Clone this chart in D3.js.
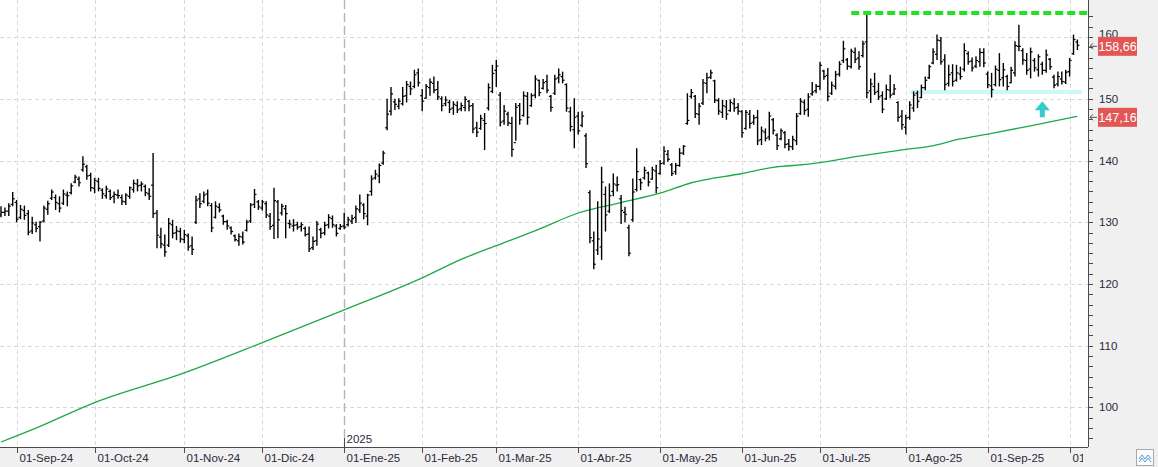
<!DOCTYPE html>
<html>
<head>
<meta charset="utf-8">
<script src="https://cdn.jsdelivr.net/npm/d3@7"></script>
<style>
	body { margin: 0; background: #fff; }
	svg { display: block; font-family: "Liberation Sans", Arial, sans-serif; }
</style>
</head>
<body>
<svg id="grafico" width="1158" height="467"></svg>
<script>
// precios diarios (barras OHLC)
var aperturas = [
	131.2,131.6,131.8,132.9,133.2,130.8,131.9,131.4,128.6,129.6,
	129.3,130.2,132.1,133.9,134.0,133.0,133.1,134.4,134.8,136.5,
	137.0,138.5,139.0,137.6,135.5,136.6,135.2,134.3,135.0,134.2,
	134.4,134.0,133.3,134.2,135.3,136.2,136.0,135.8,134.6,136.0,
	131.5,127.6,126.3,126.3,129.6,128.3,128.5,127.2,127.8,126.2,
	130.0,133.8,133.4,134.6,132.7,130.8,132.4,131.0,130.1,129.1,
	127.8,127.0,127.6,128.7,130.2,132.9,133.3,132.3,133.0,131.0,
	129.5,133.3,131.5,132.2,129.8,129.4,129.6,129.3,129.0,128.1,
	125.9,127.0,128.8,128.3,129.6,130.6,129.4,129.0,129.4,129.6,
	130.2,130.8,132.0,132.8,131.0,135.0,137.2,137.5,139.6,145.3,
	148.0,149.5,148.8,149.2,150.5,152.0,152.0,154.2,150.5,150.1,
	151.8,152.5,151.5,150.0,149.2,149.4,148.5,148.9,148.4,148.6,
	149.6,148.9,145.3,145.2,146.5,148.5,151.2,154.6,150.6,146.4,
	147.5,146.0,142.9,148.9,147.3,150.4,148.9,150.6,153.0,151.7,
	152.8,150.4,150.9,153.4,153.6,152.3,147.9,145.0,147.2,145.7,
	144.0,134.8,127.0,125.5,126.0,134.5,131.8,135.0,136.0,133.8,
	131.6,129.1,130.4,135.3,136.9,137.2,138.0,137.0,138.3,137.9,
	139.6,141.0,139.3,138.2,139.2,141.2,146.0,150.4,150.4,147.5,
	149.3,152.5,153.5,152.9,149.7,147.8,148.7,148.1,149.2,148.6,
	147.9,145.2,147.5,146.2,147.0,143.4,144.6,143.8,146.6,144.1,
	143.5,144.5,142.7,142.2,143.2,147.6,149.4,148.3,150.8,151.3,
	152.0,154.5,153.8,150.9,152.0,154.0,156.2,156.3,155.2,157.5,
	156.6,157.0,159.2,151.3,152.0,151.2,150.5,150.0,151.4,150.8,
	149.4,147.2,145.4,147.0,148.5,150.9,150.2,151.8,153.4,155.8,
	157.2,159.4,156.3,152.5,154.2,153.0,154.0,154.8,157.3,156.1,
	155.3,156.0,157.5,154.0,152.1,152.3,154.6,153.4,153.6,152.6,
	154.2,158.5,157.8,156.2,154.8,156.2,154.7,155.6,154.6,156.4,
	153.5,152.4,153.2,152.7,154.4,157.3,159.2
];
var maximos = [
	132.6,132.4,133.1,134.9,133.6,132.8,132.7,132.0,130.9,130.1,
	130.2,132.7,133.5,135.3,134.5,134.2,135.3,135.0,136.3,137.7,
	137.4,140.7,139.3,138.0,137.2,137.2,135.5,135.9,135.3,135.0,
	135.3,134.5,134.7,135.8,136.9,137.0,136.6,136.1,135.5,141.2,
	132.0,129.1,128.0,130.7,130.4,129.4,129.1,128.8,128.2,127.7,
	134.3,134.7,135.0,135.3,133.1,133.4,133.1,131.2,130.4,129.3,
	128.0,128.2,128.5,130.4,133.1,135.4,133.6,133.6,133.4,131.5,
	135.6,133.6,133.0,132.8,130.4,130.5,130.1,130.0,129.3,129.3,
	127.7,130.2,129.1,130.1,131.3,131.1,129.7,129.7,131.5,130.9,
	131.2,132.7,134.5,133.1,134.6,137.6,138.5,139.5,141.6,150.0,
	151.9,150.0,150.1,151.9,152.9,152.8,154.7,154.9,151.6,152.4,
	153.3,153.6,152.9,150.4,150.4,149.8,149.6,149.6,149.4,150.4,
	149.8,149.3,146.3,147.4,147.7,152.5,155.5,156.3,151.1,149.0,
	147.9,147.1,149.3,149.3,151.2,151.1,150.9,153.8,153.1,153.2,
	153.9,150.6,153.9,154.9,154.4,152.5,148.7,150.1,147.9,148.0,
	144.4,135.2,128.5,133.4,139.0,135.8,136.3,137.9,137.4,134.4,
	132.5,129.6,137.1,142.0,137.1,139.0,138.2,139.0,139.3,140.1,
	142.3,141.7,139.6,139.6,142.0,142.5,150.9,151.6,150.6,149.3,
	153.2,154.2,154.7,153.1,150.1,149.8,149.8,149.9,150.1,149.3,
	148.2,148.2,148.2,147.4,148.2,145.5,145.2,147.9,146.9,144.4,
	145.2,144.8,143.5,144.0,147.7,150.1,149.9,150.9,152.7,152.4,
	156.0,154.7,155.0,152.8,154.5,156.1,159.4,156.6,158.1,158.3,
	157.7,159.4,163.7,153.3,154.2,152.6,151.2,152.3,153.9,152.4,
	149.6,148.2,147.4,149.6,151.2,151.3,152.3,153.6,155.5,158.2,
	160.4,160.0,157.2,155.5,155.6,155.5,155.2,159.0,157.7,156.7,
	156.9,158.2,158.2,154.4,154.2,155.4,157.4,155.8,153.9,155.2,
	159.3,162.0,158.2,157.4,158.3,156.6,157.2,156.0,158.0,156.6,
	153.9,154.4,154.4,154.7,156.6,160.4,159.6
];
var minimos = [
	130.8,131.0,131.0,132.6,130.0,130.5,130.4,127.9,128.1,128.4,
	126.9,130.0,131.2,133.6,132.0,131.6,132.8,132.6,134.5,136.3,
	135.8,138.2,136.9,135.0,134.7,135.0,133.8,133.8,133.6,133.1,
	133.8,132.8,132.8,133.8,134.8,135.0,135.0,134.2,133.6,130.7,
	125.8,125.8,124.4,126.0,127.4,127.1,126.7,126.6,125.4,124.7,
	129.7,132.3,133.1,132.6,128.4,130.6,131.6,129.6,128.8,128.0,
	126.9,126.2,126.4,128.5,129.9,132.3,132.0,131.9,130.7,128.8,
	127.3,127.4,131.1,127.4,129.0,128.5,128.8,128.5,127.7,125.2,
	125.5,126.2,127.4,127.9,129.0,129.1,127.7,128.8,128.9,129.3,
	129.7,129.9,131.5,130.5,129.5,134.3,136.9,136.3,139.3,144.9,
	147.3,148.2,148.3,148.9,149.4,150.6,151.7,152.0,148.0,150.0,
	150.5,150.9,149.8,148.0,148.8,147.7,147.4,147.7,148.0,148.0,
	148.0,144.4,143.8,145.0,141.7,148.1,150.9,151.9,145.5,145.8,
	145.6,140.6,143.2,145.8,147.1,145.8,148.7,150.1,150.4,151.5,
	150.9,147.9,150.6,152.5,152.5,147.9,144.7,142.0,144.2,145.4,
	138.8,126.6,122.4,124.7,123.9,128.5,131.5,134.2,135.0,129.7,
	130.0,124.5,130.1,135.0,135.2,136.9,135.8,136.9,134.7,137.7,
	139.3,139.8,137.5,137.7,139.0,140.9,145.8,150.0,146.9,145.8,
	149.0,150.9,153.2,149.3,147.4,146.9,146.6,147.9,147.9,147.4,
	143.7,145.0,145.2,145.8,142.5,142.5,143.1,143.3,144.2,141.7,
	143.3,142.0,141.6,141.7,142.5,147.4,147.4,147.1,150.5,150.9,
	151.4,153.1,149.6,150.6,151.5,153.6,155.8,154.7,154.9,155.8,
	154.7,156.7,150.1,149.3,150.6,149.8,147.7,149.8,150.1,150.6,
	146.3,145.0,144.2,146.6,147.9,148.5,150.1,151.4,153.2,155.6,
	156.3,155.5,151.4,152.0,152.0,152.8,153.1,154.4,155.5,154.4,
	155.0,155.2,155.1,151.7,150.2,152.0,152.0,152.0,151.4,152.5,
	153.6,157.7,155.5,153.9,153.3,154.4,153.6,153.9,154.2,154.7,
	151.7,152.0,152.3,152.4,153.6,157.1,157.9
];
var cierres = [
	131.6,131.8,132.6,133.8,130.5,132.1,131.1,128.4,129.9,129.0,
	130.0,132.3,133.0,134.9,133.2,132.3,134.6,134.3,135.9,137.3,
	136.4,139.4,137.5,135.6,136.8,135.5,134.6,135.4,134.0,134.5,
	134.3,133.4,134.4,135.6,136.3,135.9,136.2,134.8,134.2,131.4,
	127.9,126.5,125.2,129.8,128.2,128.6,127.3,128.0,126.0,125.6,
	133.6,133.0,134.4,133.1,129.1,132.6,132.0,130.1,129.4,128.5,
	127.2,127.7,126.8,130.0,132.8,134.5,132.5,133.3,131.2,129.3,
	133.5,130.4,132.6,131.4,129.7,129.5,129.2,129.6,128.0,125.7,
	126.9,129.7,128.2,129.5,130.8,129.6,128.2,129.3,129.2,130.4,
	130.6,132.2,133.1,131.4,134.4,137.0,137.8,139.2,141.2,147.5,
	150.8,149.1,149.6,150.4,152.3,151.6,153.9,152.6,149.6,152.0,
	152.7,151.4,150.3,148.9,149.8,148.3,149.1,148.2,148.9,149.9,
	148.8,145.1,144.6,146.8,146.0,151.8,154.1,155.3,146.2,148.0,
	146.1,141.8,148.6,146.6,150.5,147.0,150.5,153.2,151.0,152.6,
	151.4,148.6,153.2,153.9,153.0,148.5,145.5,147.0,144.8,147.2,
	139.5,127.5,123.2,127.3,136.5,131.2,134.3,136.2,136.1,131.9,
	131.3,125.0,134.9,138.2,136.4,138.4,136.5,138.5,135.6,139.5,
	141.5,140.2,137.9,139.2,141.2,142.3,146.5,151.0,147.6,148.8,
	152.6,153.4,154.2,149.8,148.0,148.9,147.5,149.4,148.5,148.0,
	144.5,147.8,146.0,146.9,143.2,144.8,143.6,147.2,144.9,142.4,
	144.8,142.6,142.3,143.4,147.2,149.6,148.1,150.3,151.1,152.0,
	155.4,153.6,150.4,152.2,153.9,155.6,158.1,155.3,157.7,156.4,
	155.2,158.9,151.0,152.4,151.0,150.3,148.3,151.5,150.6,151.6,
	147.0,145.8,146.9,149.0,150.6,149.6,151.8,153.0,155.2,157.6,
	159.5,156.0,152.3,153.9,152.8,154.2,153.6,157.8,156.0,155.0,
	156.2,157.5,155.8,152.3,151.5,154.8,153.1,154.7,152.0,154.6,
	158.6,158.5,156.3,154.6,157.6,155.0,156.8,154.6,157.1,155.2,
	152.2,153.6,152.8,154.3,156.2,159.6,158.66
];

// media movil (barra, valor)
var media_idx = [0, 8, 24, 47, 67, 88, 108, 118, 127, 138, 148, 159, 169, 177, 190, 198, 207, 220, 232, 238, 246, 254, 263, 276];
var media_val = [94.4, 96.4, 100.8, 105.6, 110.5, 115.8, 121.0, 124.0, 126.2, 128.9, 131.5, 133.2, 134.7, 136.4, 137.9, 138.9, 139.4, 140.7, 141.8, 142.3, 143.5, 144.4, 145.5, 147.16];

// eje de tiempo
var meses_idx = [4, 24, 47, 67, 88, 108, 127, 148, 169, 190, 210, 232, 253, 274];
var meses_txt = ["01-Sep-24", "01-Oct-24", "01-Nov-24", "01-Dic-24", "01-Ene-25", "01-Feb-25", "01-Mar-25", "01-Abr-25", "01-May-25", "01-Jun-25", "01-Jul-25", "01-Ago-25", "01-Sep-25", "01-Oct-25"];
var anio = { i: 88, txt: "2025" };

var niveles_y = [100, 110, 120, 130, 140, 150, 160];

// etiquetas del eje derecho
var ultimos = [{ v: 158.66, txt: "158,66" }, { v: 147.16, txt: "147,16" }];

// lineas dibujadas a mano
var resistencia = { desde: 218, hasta: 278.5, v: 163.9 };
var soporte = { desde: 233, hasta: 277.2, v: 151.1 };
var flecha = { i: 267, arriba: 149.6, abajo: 147.0 };

(function () {
	var W = 1158, H = 467, derecha = 1088, abajo = 447;
	var svg = d3.select("#grafico");

	var x = d3.scaleLinear().domain([0, 276]).range([1, 1077.4]);
	var y = d3.scaleLinear().domain([93.6, 166.0]).range([abajo, 0]);

	// fondos
	svg.append("rect").attr("width", W).attr("height", H).attr("fill", "#fff");
	svg.append("rect").attr("x", derecha).attr("width", W - derecha).attr("height", H).attr("fill", "#f0f0f0");
	svg.append("rect").attr("y", abajo).attr("width", W).attr("height", H - abajo).attr("fill", "#f0f0f0");

	// rejilla
	var grid = svg.append("g");
	grid.selectAll(".gh").data(niveles_y).enter().append("line")
		.attr("x1", 0).attr("x2", derecha)
		.attr("y1", d => Math.round(y(d)) + 0.5).attr("y2", d => Math.round(y(d)) + 0.5)
		.attr("stroke", "#d9d9d9").attr("stroke-dasharray", "4,3");
	grid.selectAll(".gv").data(meses_idx.filter(d => d != anio.i)).enter().append("line")
		.attr("x1", d => Math.round(x(d)) + 0.5).attr("x2", d => Math.round(x(d)) + 0.5)
		.attr("y1", 0).attr("y2", abajo)
		.attr("stroke", "#d9d9d9").attr("stroke-dasharray", "4,3");
	grid.append("line")
		.attr("x1", Math.round(x(anio.i)) + 0.5).attr("x2", Math.round(x(anio.i)) + 0.5)
		.attr("y1", 0).attr("y2", abajo)
		.attr("stroke", "#b5b5b5").attr("stroke-width", 1.4).attr("stroke-dasharray", "9,4");

	// media movil
	var linea = d3.line().x(d => x(d[0])).y(d => y(d[1])).curve(d3.curveMonotoneX);
	svg.append("path").datum(media_idx.map((d, k) => [d, media_val[k]]))
		.attr("d", linea).attr("fill", "none").attr("stroke", "#1aaa48").attr("stroke-width", 1.3);

	// soporte
	svg.append("line")
		.attr("x1", x(soporte.desde)).attr("x2", x(soporte.hasta))
		.attr("y1", y(soporte.v)).attr("y2", y(soporte.v))
		.attr("stroke", "#cdf8f8").attr("stroke-width", 4);

	// barras
	var barras = svg.append("g").attr("stroke", "#000");
	var idx = d3.range(cierres.length);
	barras.selectAll(".hl").data(idx).enter().append("line")
		.attr("x1", d => x(d)).attr("x2", d => x(d))
		.attr("y1", d => y(maximos[d])).attr("y2", d => y(minimos[d]))
		.attr("stroke-width", 1.4);
	barras.selectAll(".ap").data(idx).enter().append("line")
		.attr("x1", d => x(d) - 2).attr("x2", d => x(d))
		.attr("y1", d => y(aperturas[d])).attr("y2", d => y(aperturas[d]))
		.attr("stroke-width", 1.2);
	barras.selectAll(".ci").data(idx).enter().append("line")
		.attr("x1", d => x(d)).attr("x2", d => x(d) + 2)
		.attr("y1", d => y(cierres[d])).attr("y2", d => y(cierres[d]))
		.attr("stroke-width", 1.2);

	// resistencia
	svg.append("line")
		.attr("x1", x(resistencia.desde)).attr("x2", x(resistencia.hasta))
		.attr("y1", y(resistencia.v)).attr("y2", y(resistencia.v))
		.attr("stroke", "#22e322").attr("stroke-width", 4).attr("stroke-dasharray", "8,4");

	// flecha
	var fx = x(flecha.i), ft = y(flecha.arriba), fb = y(flecha.abajo);
	svg.append("path")
		.attr("d", `M${fx},${ft} L${fx + 7.5},${ft + 9} L${fx + 2.5},${ft + 9} L${fx + 2.5},${fb} L${fx - 2.5},${fb} L${fx - 2.5},${ft + 9} L${fx - 7.5},${ft + 9} Z`)
		.attr("fill", "#33cccc");

	// eje derecho
	var ejeY = svg.append("g");
	ejeY.append("line").attr("x1", derecha + 0.5).attr("x2", derecha + 0.5).attr("y1", 0).attr("y2", abajo)
		.attr("stroke", "#4a4a4a");
	var menores = d3.range(0, 45).map(k => 90 + k * 10 / 6).filter(v => y(v) > 2 && y(v) < abajo);
	ejeY.selectAll(".tk").data(menores).enter().append("line")
		.attr("x1", derecha).attr("x2", derecha + 5)
		.attr("y1", d => Math.round(y(d)) + 0.5).attr("y2", d => Math.round(y(d)) + 0.5)
		.attr("stroke", "#4a4a4a");
	// el 160 queda medio tapado por la etiqueta del ultimo precio, como en el original
	ejeY.selectAll(".lb").data(niveles_y).enter().append("text")
		.attr("x", derecha + 11).attr("y", d => d == 160 ? y(d) + 1 : y(d) + 4)
		.attr("font-size", 11.5).attr("fill", "#2a2a3a").text(d => d);

	ultimos.forEach(function (u) {
		var cy = y(u.v) + 1;
		ejeY.append("rect").attr("x", derecha + 10).attr("y", cy - 9.5).attr("width", 39).attr("height", 19)
			.attr("fill", "#e25656");
		ejeY.append("text").attr("x", derecha + 29.5).attr("y", cy + 4.5).attr("text-anchor", "middle")
			.attr("font-size", 12.5).attr("fill", "#fff").text(u.txt);
		ejeY.append("path")
			.attr("d", `M${derecha + 9},${cy} L${derecha + 2},${cy} M${derecha + 5},${cy - 3} L${derecha + 2},${cy} L${derecha + 5},${cy + 3}`)
			.attr("fill", "none").attr("stroke", "#555");
	});

	// eje inferior
	var ejeX = svg.append("g");
	svg.append("clipPath").attr("id", "recorte").append("rect").attr("width", derecha - 5).attr("height", H);
	ejeX.append("line").attr("x1", 0).attr("x2", derecha).attr("y1", abajo + 0.5).attr("y2", abajo + 0.5)
		.attr("stroke", "#4a4a4a");
	ejeX.selectAll(".mt").data(meses_idx).enter().append("line")
		.attr("x1", d => Math.round(x(d)) + 0.5).attr("x2", d => Math.round(x(d)) + 0.5)
		.attr("y1", abajo).attr("y2", abajo + 6).attr("stroke", "#4a4a4a");
	ejeX.append("g").attr("clip-path", "url(#recorte)")
		.selectAll("text").data(meses_idx).enter().append("text")
		.attr("x", d => Math.round(x(d)) + 2.5).attr("y", abajo + 15)
		.attr("font-size", 11.5).attr("fill", "#2a2a3a").text((d, k) => meses_txt[k]);
	ejeX.append("line")
		.attr("x1", Math.round(x(anio.i)) + 0.5).attr("x2", Math.round(x(anio.i)) + 0.5)
		.attr("y1", abajo - 9).attr("y2", abajo).attr("stroke", "#4a4a4a");
	ejeX.append("text").attr("x", Math.round(x(anio.i)) + 2.5).attr("y", abajo - 4)
		.attr("font-size", 11.5).attr("fill", "#2a2a3a").text(anio.txt);

	// boton esquina
	svg.append("rect").attr("x", 1136.5).attr("y", 449.5).attr("width", 17).attr("height", 16)
		.attr("fill", "#fbfbfb").attr("stroke", "#a8a8a8");
	svg.append("path").attr("d", "M1139,459 L1142,455 L1145,459 L1148,455 L1151,459 M1139,462 L1142,458 L1145,462 L1148,458 L1151,462")
		.attr("fill", "none").attr("stroke", "#5a9ad8").attr("stroke-width", 1);
})();
</script>
</body>
</html>
